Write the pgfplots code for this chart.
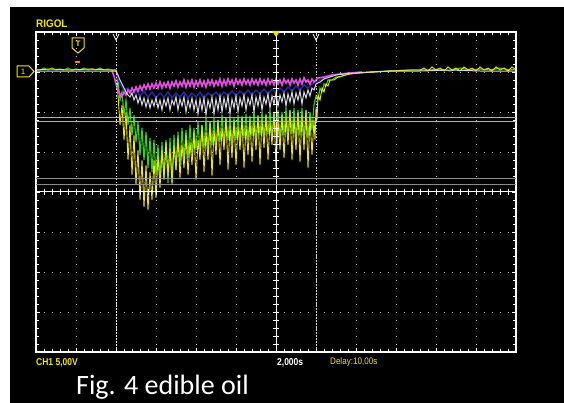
\documentclass[border=0pt]{standalone}
\usepackage{fontspec}
\usepackage{pgfplots}
\pgfplotsset{compat=1.18}
\setmainfont{Carlito}
\newfontfamily\lsans{Liberation Sans}
\definecolor{rgyel}{RGB}{240,230,20}
\definecolor{rggrn}{RGB}{60,205,30}
\definecolor{rgmag}{RGB}{225,80,225}
\definecolor{rgblu}{RGB}{40,40,170}
\definecolor{rgwht}{RGB}{215,215,225}
\definecolor{rggrid}{RGB}{200,200,200}

\begin{document}
\begin{tikzpicture}
% page and screen
\fill[white] (0pt,0pt) rectangle (564pt,-403pt);
\fill[black] (10pt,-7pt) rectangle (564pt,-403pt);

\begin{axis}[
    at={(36pt,-352pt)}, anchor=south west,
    scale only axis, width=480pt, height=320pt,
    xmin=36, xmax=516, ymin=32, ymax=352, y dir=reverse,
    axis background/.style={fill=black},
    axis line style={white, line width=1.3pt},
    xtick={36,76,...,516}, ytick={32,72,...,352},
    xticklabels={}, yticklabels={},
    minor x tick num=4, minor y tick num=4,
    tick align=inside, major tick length=4pt, minor tick length=3pt,
    tick style={white, line width=0.9pt},
    grid=major,
    major grid style={rggrid, line width=1pt, dash pattern=on 1pt off 7pt},
    clip=true,
  ]
% green trace
\addplot[rggrn, line width=1.1pt] coordinates {
(36,69)(40,70)(44,68)(48,70)(52,68)(56,70)(60,69)(64,70)(68,68)(72,70)(76,69)(80,70)(84,68)(88,70)(92,69)(96,70)(100,68)(104,70)(108,69)(112,70)(116,70)
(118,80)(120,100)(122,92)(124,115)(126,100)(128,125)(130,108)(132,135)(134,115)(136,142)(138,122)(140,155)(142,128)(144,160)(146,132)(148,168)(150,138)(152,172)(154,140)(156,175)(158,145)(160,180)(162,142)(164,178)(166,140)(168,183)(170,138)(172,182)(174,135)(176,170)(178,132)(180,165)(182,128)(184,160)(186,130)(188,158)(190,125)(192,155)(194,128)(196,150)(198,122)(200,152)(202,125)(204,148)(206,118)(208,150)(210,122)(212,145)(214,118)(216,148)(218,120)(220,142)(222,115)(224,145)(226,118)(228,140)(230,116)(232,145)(234,118)(236,140)(238,115)(240,142)(242,116)(244,138)(246,114)(248,140)(250,116)(252,136)(254,112)(256,140)(258,115)(260,135)(262,112)(264,138)(266,114)(268,134)(270,110)(272,138)(274,112)(276,135)(278,110)(280,140)(282,112)(284,135)(286,108)(288,138)(290,110)(292,134)(294,108)(296,140)(298,110)(300,135)(302,108)(304,142)(306,110)(308,138)(310,112)(312,130)(314,105)(316,96)(318,100)(320,88)(322,92)(324,84)(326,86)(328,80)(332,80)(336,77)(340,77)(348,74)(356,73)(370,72)(390,71)(410,70)(430,70)(440,69)(450,71)(460,68)(470,70)(480,69)(490,70)(500,68)(510,70)(515,69)
};
% yellow trace
\addplot[rgyel, line width=0.9pt] coordinates {
(36,70)(50,69)(70,70)(90,69)(110,70)(116,70)(117,78)
(118,95)(120,125)(122,105)(124,140)(126,112)(128,160)(130,125)(132,175)(134,135)(136,185)(138,150)(140,200)(142,160)(144,207)(146,165)(148,210)(150,172)(152,200)(154,160)(156,198)(158,155)(160,188)(162,150)(164,180)(166,142)(168,176)(170,148)(172,184)(174,145)(176,170)(178,138)(180,178)(182,145)(184,168)(186,135)(188,175)(190,142)(192,165)(194,132)(196,180)(198,140)(200,160)(202,125)(204,172)(206,132)(208,160)(210,122)(212,176)(214,130)(216,155)(218,120)(220,165)(222,128)(224,150)(226,118)(228,170)(230,125)(232,158)(234,120)(236,165)(238,126)(240,150)(242,118)(244,168)(246,125)(248,155)(250,120)(252,162)(254,122)(256,150)(258,116)(260,165)(262,120)(264,148)(266,115)(268,160)(270,122)(272,145)(274,112)(276,168)(278,120)(280,150)(282,115)(284,158)(286,118)(288,145)(290,110)(292,160)(294,118)(296,150)(298,112)(300,162)(302,115)(304,150)(306,110)(308,168)(310,118)(312,155)(314,120)(315,140)(316,108)(317,120)(318,95)(320,100)(322,88)(324,92)(326,84)(328,86)(330,80)(334,80)(338,77)(342,76)(350,74)(360,73)(375,72)(390,71)(410,70)(420,70)
(424,68)(428,71)(432,67)(436,70)(440,68)(444,71)(448,67)(452,70)(456,68)(460,71)(464,67)(468,70)(472,68)(476,71)(480,67)(484,70)(488,68)(492,71)(496,67)(500,70)(504,68)(508,71)(512,67)(515,69)
};
% blue trace
\addplot[rgblu, line width=1.4pt] coordinates {
(116,74)(120,84)(124,90)(128,88)(132,94)(136,90)(140,96)(144,91)(148,97)(152,92)(156,98)(160,93)(164,97)(168,92)(172,98)(176,93)(180,97)(184,92)(188,98)(192,93)(196,97)(200,92)(204,98)(208,93)(212,96)(216,92)(220,97)(224,92)(228,96)(232,91)(236,96)(240,91)(244,95)(248,90)(252,95)(256,90)(260,94)(264,89)(268,94)(272,89)(276,93)(280,88)(284,92)(288,87)(292,91)(296,86)(300,90)(304,85)(308,88)(312,84)(316,82)(322,79)(330,76)
};
% magenta trace
\addplot[rgmag, line width=1.6pt] coordinates {
(112,71)(114,76)(116,84)(118,90)(120,94)(122,97)(124,92)(126,95)(128,90)(130,93)(132,88)(134,92)(136,87)(138,91)(140,86)(142,90)(144,85)(146,89)(148,84)(150,89)(152,84)(154,88)(156,83)(158,88)(160,82)(162,88)(164,83)(166,87)(168,82)(170,88)(172,82)(174,86)(176,81)(178,87)(180,82)(182,86)(184,80)(186,87)(188,81)(190,86)(192,80)(194,87)(196,81)(198,86)(200,80)(202,86)(204,81)(206,87)(208,80)(210,85)(212,80)(214,86)(216,81)(218,85)(220,79)(222,86)(224,80)(226,85)(228,79)(230,84)(232,80)(234,86)(236,79)(238,84)(240,80)(242,85)(244,79)(246,84)(248,80)(250,85)(252,79)(254,84)(256,80)(258,85)(260,79)(262,84)(264,80)(266,85)(268,79)(270,84)(272,80)(274,85)(276,79)(278,84)(280,80)(282,85)(284,79)(286,83)(288,80)(290,85)(292,79)(294,83)(296,80)(298,85)(300,79)(302,84)(304,78)(306,82)(308,80)(310,84)(312,79)(314,82)(318,78)(324,77)(332,75)(340,74)(350,73)(362,72)
};
% white trace
\addplot[rgwht, line width=1pt] coordinates {
(36,71)(116,71)(118,75)(120,80)(122,84)(124,88)(126,92)(128,95)(130,97)(132,93)(134,100)(136,95)(138,103)(140,97)(142,105)(144,98)(146,107)(148,99)(150,108)(152,100)(154,106)(156,98)(158,108)(160,100)(162,110)(164,99)(166,106)(168,98)(170,110)(172,100)(174,105)(176,97)(178,110)(180,99)(182,106)(184,97)(186,112)(188,100)(190,108)(192,98)(194,110)(196,100)(198,114)(200,99)(202,110)(204,98)(206,115)(208,100)(210,108)(212,97)(214,114)(216,99)(218,110)(220,96)(222,112)(224,98)(226,108)(228,96)(230,114)(232,99)(234,108)(236,96)(238,112)(240,98)(242,106)(244,95)(246,110)(248,98)(250,105)(252,95)(254,112)(256,97)(258,106)(260,95)(262,110)(264,97)(266,104)(268,94)(270,108)(272,96)(274,104)(276,93)(278,106)(280,95)(282,102)(284,93)(286,106)(288,94)(290,102)(292,92)(294,104)(296,93)(298,100)(300,91)(302,104)(304,92)(306,98)(308,90)(310,96)(312,88)(314,90)(316,84)(320,82)(324,79)(330,77)(336,75)(344,74)(355,73)(370,72)(390,71)(420,71)(450,70)(480,71)(516,71)
};
\end{axis}

% centre cross with ticks
\draw[white, line width=1pt] (36pt,-192pt) -- (516pt,-192pt);
\draw[white, line width=1pt] (276pt,-32pt) -- (276pt,-352pt);
\foreach \i in {44,52,...,508} \draw[white, line width=0.8pt] (\i pt,-189pt) -- (\i pt,-195pt);
\foreach \j in {40,48,...,344} \draw[white, line width=0.8pt] (273pt,-\j pt) -- (279pt,-\j pt);
% horizontal cursor lines
\draw[gray!60, line width=0.5pt] (36pt,-117pt) -- (516pt,-117pt);
\draw[gray!60, line width=0.5pt] (36pt,-121pt) -- (516pt,-121pt);
\draw[gray!90!white, line width=0.8pt] (36pt,-178pt) -- (516pt,-178pt);
\draw[gray!90!white, line width=0.8pt] (36pt,-184pt) -- (516pt,-184pt);
% vertical cursor lines
\draw[white, line width=1pt, dash pattern=on 1.5pt off 1.5pt] (116pt,-32pt) -- (116pt,-352pt);
\draw[white!85!black, line width=1pt, dash pattern=on 1.5pt off 1.5pt] (316pt,-32pt) -- (316pt,-352pt);
\draw[white, line width=0.7pt] (113pt,-34pt) -- (116pt,-40pt) -- (119pt,-34pt);
\draw[white, line width=0.7pt] (313pt,-34pt) -- (316pt,-40pt) -- (319pt,-34pt);

% trigger markers
\fill[rgyel] (272pt,-31pt) -- (280pt,-31pt) -- (276pt,-37pt) -- cycle;
\draw[rgyel, line width=1pt] (72pt,-38pt) -- (84pt,-38pt) -- (84pt,-48pt) -- (78pt,-53pt) -- (72pt,-48pt) -- cycle;
\node[rgyel, font=\lsans\bfseries\fontsize{8}{8}\selectfont, inner sep=0pt] at (78pt,-44pt) {T};
\fill[orange] (75pt,-61pt) rectangle (80pt,-63pt);
% channel 1 marker
\draw[rgyel, line width=1pt] (17pt,-66pt) -- (29pt,-66pt) -- (34pt,-71.5pt) -- (29pt,-77pt) -- (17pt,-77pt) -- cycle;
\node[rgyel, font=\lsans\fontsize{8}{8}\selectfont, inner sep=0pt] at (23pt,-71.5pt) {1};

% texts
\node[rgyel, anchor=south west, inner sep=0pt, font=\lsans\bfseries\fontsize{11}{11}\selectfont, xscale=0.9] at (36pt,-28pt) {RIGOL};
\node[rgyel, anchor=south west, inner sep=0pt, font=\lsans\bfseries\fontsize{10}{10}\selectfont, xscale=0.85] at (36pt,-367pt) {CH1 5,00V};
\node[white, anchor=south west, inner sep=0pt, font=\lsans\bfseries\fontsize{10}{10}\selectfont, xscale=0.85] at (277pt,-367pt) {2,000s};
\node[rgyel, anchor=south west, inner sep=0pt, font=\lsans\fontsize{9.5}{10}\selectfont, xscale=0.85] at (330pt,-367pt) {Delay:10,00s};
\node[white, anchor=base west, inner sep=0pt, font=\fontsize{28}{28}\selectfont] at (76pt,-394pt) {Fig. 4 edible oil};
\end{tikzpicture}
\end{document}
